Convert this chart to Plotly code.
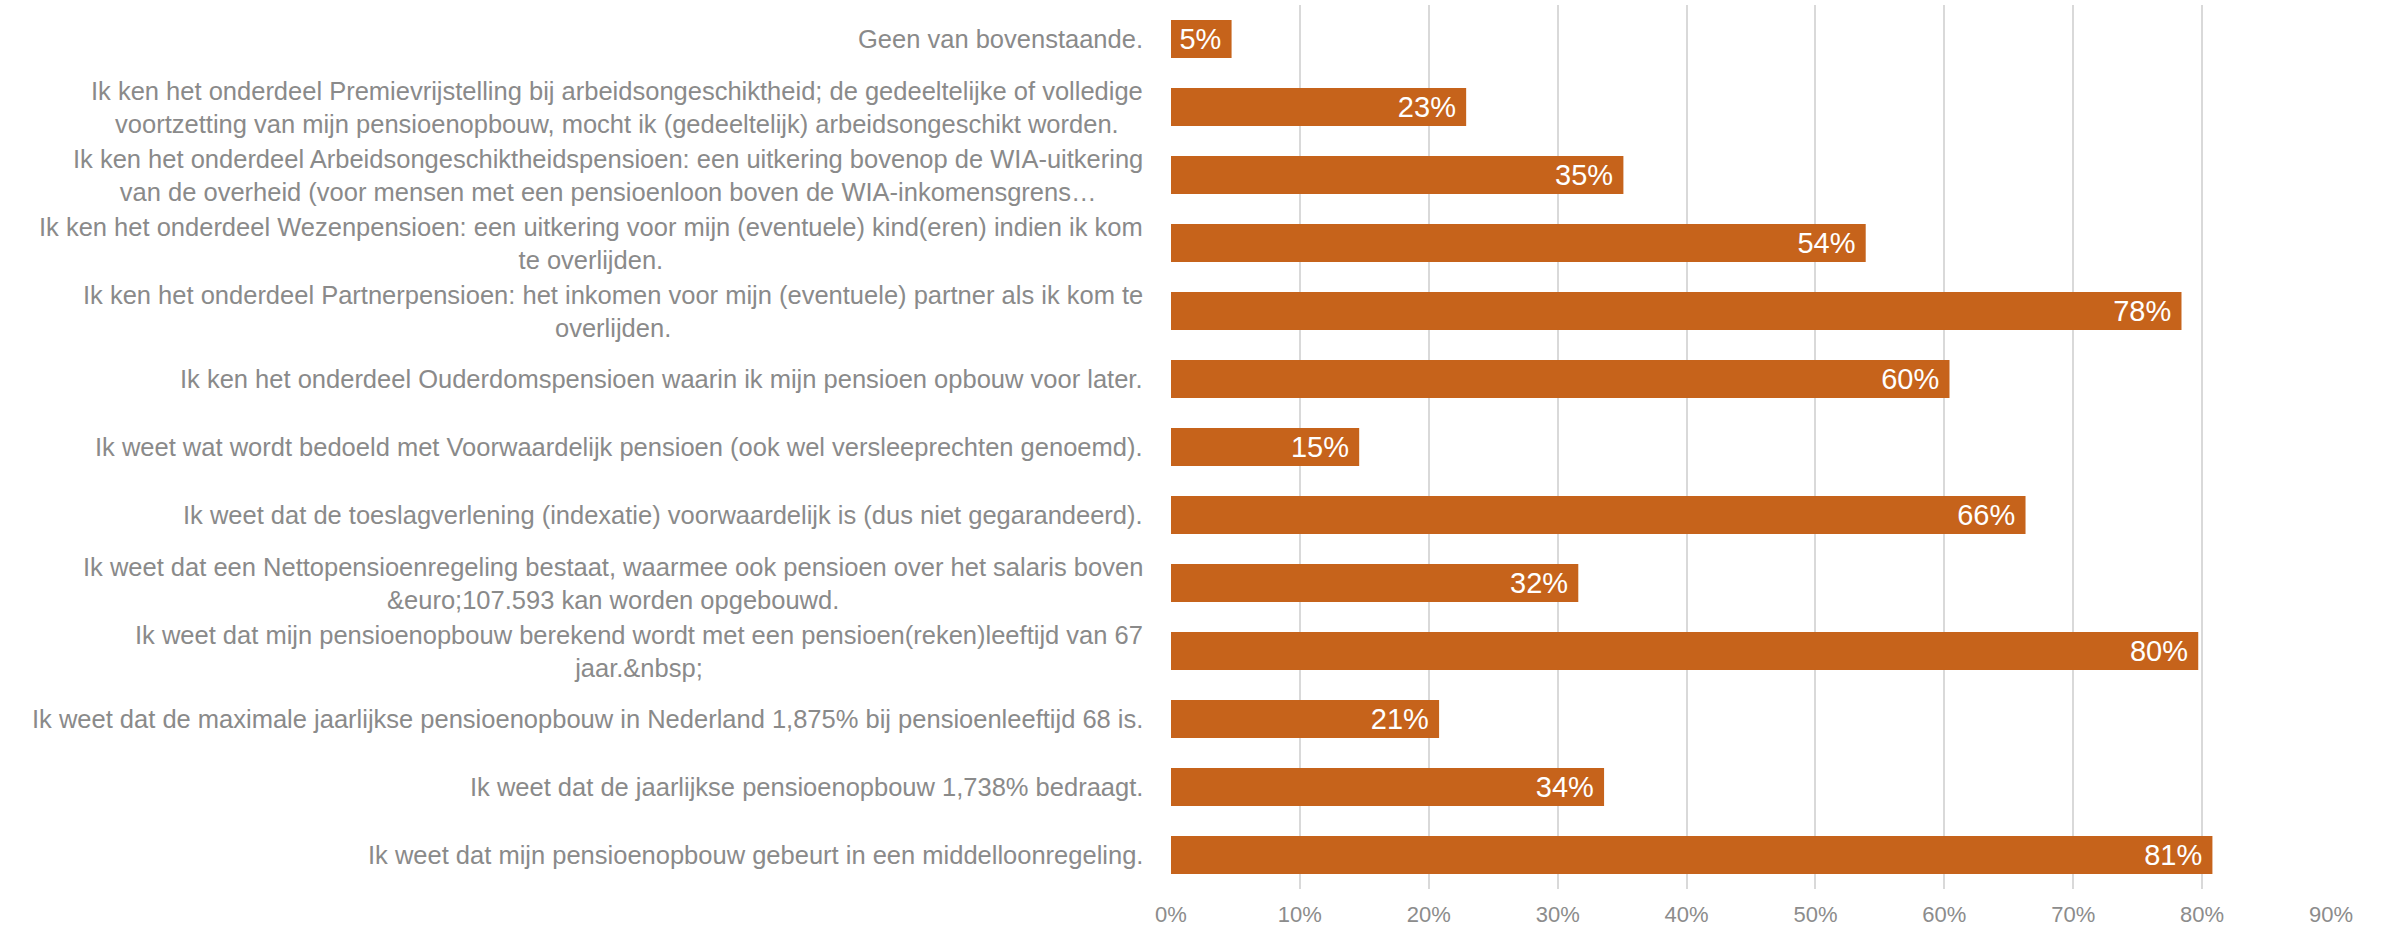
import plotly.graph_objects as go

categories = [
    "Geen van bovenstaande.",
    "Ik ken het onderdeel Premievrijstelling bij arbeidsongeschiktheid; de gedeeltelijke of volledige<br>voortzetting van mijn pensioenopbouw, mocht ik (gedeeltelijk) arbeidsongeschikt worden.",
    "Ik ken het onderdeel Arbeidsongeschiktheidspensioen: een uitkering bovenop de WIA-uitkering<br>van de overheid (voor mensen met een pensioenloon boven de WIA-inkomensgrens…",
    "Ik ken het onderdeel Wezenpensioen: een uitkering voor mijn (eventuele) kind(eren) indien ik kom<br>te overlijden.",
    "Ik ken het onderdeel Partnerpensioen: het inkomen voor mijn (eventuele) partner als ik kom te<br>overlijden.",
    "Ik ken het onderdeel Ouderdomspensioen waarin ik mijn pensioen opbouw voor later.",
    "Ik weet wat wordt bedoeld met Voorwaardelijk pensioen (ook wel versleeprechten genoemd).",
    "Ik weet dat de toeslagverlening (indexatie) voorwaardelijk is (dus niet gegarandeerd).",
    "Ik weet dat een Nettopensioenregeling bestaat, waarmee ook pensioen over het salaris boven<br>&amp;euro;107.593 kan worden opgebouwd.",
    "Ik weet dat mijn pensioenopbouw berekend wordt met een pensioen(reken)leeftijd van 67<br>jaar.&amp;nbsp;",
    "Ik weet dat de maximale jaarlijkse pensioenopbouw in Nederland 1,875% bij pensioenleeftijd 68 is.",
    "Ik weet dat de jaarlijkse pensioenopbouw 1,738% bedraagt.",
    "Ik weet dat mijn pensioenopbouw gebeurt in een middelloonregeling.",
]
values = [0.047, 0.229, 0.351, 0.539, 0.784, 0.604, 0.146, 0.663, 0.316, 0.797, 0.208, 0.336, 0.808]
tick_vals = [0, 0.1, 0.2, 0.3, 0.4, 0.5, 0.6, 0.7, 0.8, 0.9]
tick_text = ["0%", "10%", "20%", "30%", "40%", "50%", "60%", "70%", "80%", "90%"]

FONT = "Liberation Sans"
BAR = "#C6631B"

ids = list(range(len(categories)))

fig = go.Figure(go.Bar(
    x=values,
    y=ids,
    orientation="h",
    marker=dict(color=BAR, line=dict(width=0)),
    texttemplate="%{x:.0%}\u2005",
    textposition="inside",
    insidetextanchor="end",
    constraintext="none",
    textfont=dict(family=FONT, size=29, color="white"),
    hoverinfo="skip",
))

annotations = []
for i, c in zip(ids, categories):
    annotations.append(dict(
        x=0, xref="paper", y=i, yref="y",
        text=c, showarrow=False, xanchor="right", yanchor="middle",
        align="center", xshift=-26,
        font=dict(family=FONT, size=25.5, color="#8A8A8A"),
    ))

fig.update_layout(
    width=2384, height=932,
    margin=dict(l=1171, r=53, t=5, b=41),
    plot_bgcolor="white", paper_bgcolor="white",
    bargap=0.44,
    showlegend=False,
    annotations=annotations,
    xaxis=dict(
        range=[0, 0.9], tickvals=tick_vals, ticktext=tick_text,
        showgrid=True, gridcolor="#D9D9D9", gridwidth=1.5,
        zeroline=False, showline=False,
        tickfont=dict(family=FONT, size=22, color="#8C8C8C"),
        ticklabelstandoff=10,
    ),
    yaxis=dict(
        tickvals=ids, showticklabels=False, autorange="reversed",
        range=[12.5, -0.5], showgrid=False, zeroline=False, showline=False,
    ),
)

fig.write_html("out.html", config={"displayModeBar": False},
               post_script="document.body.style.margin='0';")
